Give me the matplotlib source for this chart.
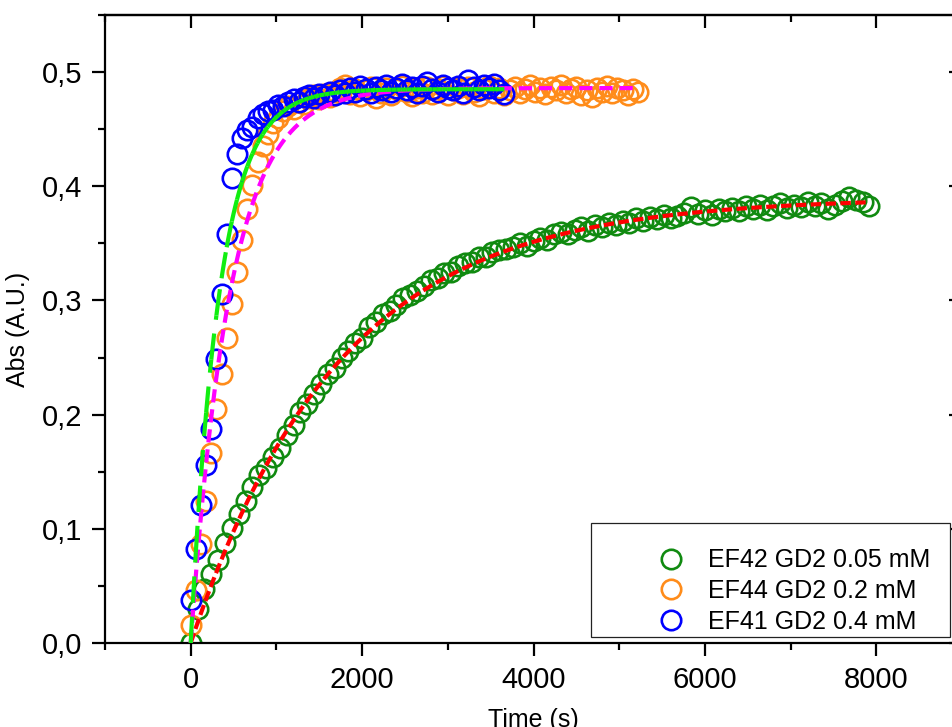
import numpy as np
import matplotlib
matplotlib.use("Agg")
import matplotlib.pyplot as plt
from matplotlib.collections import LineCollection
from matplotlib.lines import Line2D
from matplotlib.patches import Rectangle
from matplotlib.ticker import MultipleLocator, FixedLocator, FuncFormatter, NullFormatter

plt.rcParams['font.family'] = ['Liberation Sans', 'DejaVu Sans']
plt.rcParams['lines.scale_dashes'] = False

# ---- data -------------------------------------------------------------
series_labels = ["EF42 GD2 0.05 mM", "EF44 GD2 0.2 mM", "EF41 GD2 0.4 mM"]
marker_colors = ["#108a10", "#ff8c1a", "#0000ff"]
fit_colors = ["#ff0000", "#ff00ff", "#11ee11"]
sample_step_s = [80, 60, 60]

abs_ef42 = [
    0.000, 0.030, 0.047, 0.060, 0.073, 0.088, 0.101, 0.113, 0.124, 0.137,
    0.147, 0.153, 0.163, 0.171, 0.182, 0.191, 0.202, 0.209, 0.218, 0.227,
    0.236, 0.241, 0.250, 0.256, 0.263, 0.267, 0.277, 0.281, 0.288, 0.291,
    0.296, 0.302, 0.305, 0.308, 0.313, 0.318, 0.320, 0.324, 0.325, 0.330,
    0.333, 0.334, 0.338, 0.338, 0.342, 0.344, 0.345, 0.347, 0.350, 0.348,
    0.352, 0.355, 0.353, 0.358, 0.360, 0.358, 0.362, 0.364, 0.361, 0.366,
    0.364, 0.368, 0.366, 0.370, 0.368, 0.372, 0.370, 0.373, 0.371, 0.375,
    0.372, 0.374, 0.377, 0.382, 0.376, 0.379, 0.375, 0.380, 0.378, 0.381,
    0.378, 0.383, 0.380, 0.384, 0.379, 0.383, 0.385, 0.381, 0.384, 0.382,
    0.386, 0.383, 0.385, 0.380, 0.384, 0.387, 0.391, 0.388, 0.386, 0.383,
]

abs_ef44 = [
    0.016, 0.046, 0.087, 0.124, 0.166, 0.205, 0.236, 0.267, 0.297, 0.325,
    0.353, 0.380, 0.401, 0.421, 0.435, 0.446, 0.455, 0.460, 0.466, 0.470,
    0.468, 0.474, 0.472, 0.477, 0.480, 0.476, 0.481, 0.478, 0.483, 0.486,
    0.489, 0.481, 0.485, 0.479, 0.484, 0.487, 0.477, 0.482, 0.486, 0.480,
    0.485, 0.488, 0.483, 0.479, 0.486, 0.482, 0.487, 0.481, 0.485, 0.488,
    0.480, 0.484, 0.486, 0.481, 0.487, 0.483, 0.479, 0.485, 0.488, 0.482,
    0.486, 0.480, 0.484, 0.487, 0.482, 0.485, 0.489, 0.483, 0.486, 0.481,
    0.487, 0.484, 0.489, 0.482, 0.485, 0.487, 0.480, 0.484, 0.478, 0.486,
    0.483, 0.488, 0.482, 0.486, 0.484, 0.480, 0.485, 0.483,
]

abs_ef41 = [
    0.038, 0.082, 0.121, 0.156, 0.187, 0.249, 0.306, 0.358, 0.407, 0.428,
    0.442, 0.449, 0.452, 0.460, 0.463, 0.466, 0.467, 0.471, 0.470, 0.474,
    0.476, 0.474, 0.478, 0.480, 0.477, 0.481, 0.479, 0.483, 0.480, 0.484,
    0.482, 0.486, 0.483, 0.488, 0.485, 0.482, 0.487, 0.484, 0.489, 0.483,
    0.486, 0.490, 0.484, 0.487, 0.482, 0.488, 0.491, 0.485, 0.483, 0.489,
    0.486, 0.484, 0.488, 0.482, 0.493, 0.487, 0.484, 0.489, 0.486, 0.490,
    0.484, 0.481,
]

# single-exponential fit parameters  y = A * (1 - exp(-t / tau))
fit_amplitude = [0.390, 0.486, 0.485]
fit_tau_s = [1730.0, 460.0, 335.0]

x_ticks = [0, 2000, 4000, 6000, 8000]
y_ticks = [0.0, 0.1, 0.2, 0.3, 0.4, 0.5]


def rise(t, amp, tau):
    return amp * (1.0 - np.exp(-np.asarray(t) / tau))


def comma_fmt(v, pos):
    return f"{v:.1f}".replace(".", ",")


series = [abs_ef42, abs_ef44, abs_ef41]
times = [np.arange(len(v)) * step for v, step in zip(series, sample_step_s)]

# ---- figure -----------------------------------------------------------
fig = plt.figure(figsize=(9.52, 7.27), dpi=100)
ax = fig.add_axes([105 / 952, 84 / 727, 857 / 952, 628 / 727])

marker_kw = dict(ls="none", marker="o", ms=14, mfc="none", mew=1.9)
for t, y, c in zip(times, series, marker_colors):
    ax.plot(t, y, mec=c, zorder=2, **marker_kw)

# fit curves
t_red = np.linspace(0, times[0][-1], 600)
ax.plot(t_red, rise(t_red, fit_amplitude[0], fit_tau_s[0]), color=fit_colors[0],
        lw=3, dashes=(7.5, 3.2), zorder=3)

t_mag = np.linspace(0, times[1][-1], 600)
ax.plot(t_mag, rise(t_mag, fit_amplitude[1], fit_tau_s[1]), color=fit_colors[1],
        lw=3, dashes=(9.5, 5.0), zorder=3)

# the 0.4 mM fit is stroked piece by piece between sample times
segs = []
tb = times[2]
for a, b in zip(tb[:-1], tb[1:]):
    tt = np.linspace(a, b, 8)
    segs.append(np.column_stack([tt, rise(tt, fit_amplitude[2], fit_tau_s[2])]))
lc = LineCollection(segs, colors=fit_colors[2], linewidths=3,
                    linestyles=[(0, (19, 10))], zorder=4)
ax.add_collection(lc)

# ---- axes -------------------------------------------------------------
ax.set_xlim(-1000, 9000)
ax.set_ylim(0, 0.55)

for s in ax.spines.values():
    s.set_linewidth(1.6)


def style_ticks(axis_obj, major, minor_step, fmt=None):
    axis_obj.set_major_locator(FixedLocator(major))
    axis_obj.set_minor_locator(MultipleLocator(minor_step))
    if fmt is not None:
        axis_obj.set_major_formatter(FuncFormatter(fmt))


style_ticks(ax.xaxis, x_ticks, 1000)
style_ticks(ax.yaxis, y_ticks, 0.05, comma_fmt)
ax.tick_params(which="both", direction="out", width=1.6, labelsize=21, pad=7,
               top=False, right=False)
ax.tick_params(which="major", length=9.5)
ax.tick_params(which="minor", length=5)

# mirrored ticks on the top and right edges point inward
top = ax.secondary_xaxis("top")
right = ax.secondary_yaxis("right")
for sec, major, step in ((top, x_ticks, 1000), (right, y_ticks, 0.05)):
    style_ticks(sec.xaxis if sec is top else sec.yaxis, major, step)
    sec.tick_params(which="both", direction="in", width=1.6)
    sec.tick_params(which="major", length=9.5)
    sec.tick_params(which="minor", length=5)
    for s in sec.spines.values():
        s.set_linewidth(1.6)
top.xaxis.set_major_formatter(NullFormatter())
right.yaxis.set_major_formatter(NullFormatter())

ax.set_xlabel("Time (s)", fontsize=18, labelpad=10)
ax.set_ylabel("Abs (A.U.)", fontsize=18, labelpad=8)

# ---- legend -----------------------------------------------------------
frame = Rectangle((591 / 952, 1 - 637 / 727), 359 / 952, 114 / 727,
                  transform=fig.transFigure, facecolor="white",
                  edgecolor="#222222", lw=0.9, zorder=5, clip_on=False)
ax.add_patch(frame)
handles = [Line2D([], [], mec=c, **marker_kw) for c in marker_colors]
leg = ax.legend(handles, series_labels, loc="center left",
                bbox_to_anchor=(656 / 952, 1 - 591 / 727), bbox_transform=fig.transFigure,
                frameon=False, fontsize=18, handlelength=1.2, handletextpad=0.9,
                borderpad=0, borderaxespad=0, labelspacing=0.27)
leg.set_zorder(6)

fig.savefig("out.png", dpi=100)
